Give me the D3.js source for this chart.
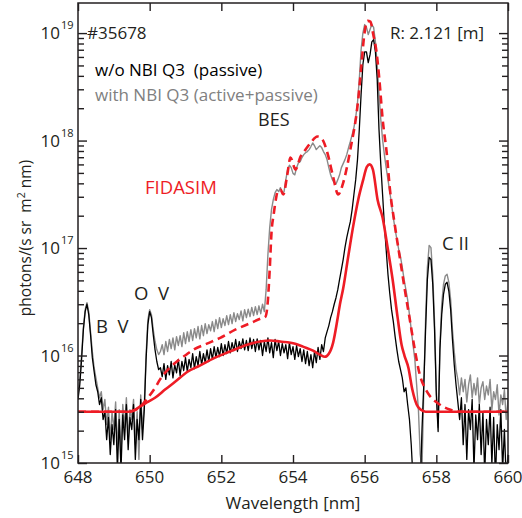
<!DOCTYPE html>
<html><head><meta charset="utf-8">
<script src="https://cdn.jsdelivr.net/npm/d3@7"></script>
<style>
body{margin:0;background:#fff}
svg{display:block}
text{font-family:"Open Sans",sans-serif;fill:#231f20}
</style>
</head><body><svg id="c" width="522" height="518"></svg>
<script>
// ---------- data ----------
const xTicks = [648, 650, 652, 654, 656, 658, 660];
const xTickLabels = ["648", "650", "652", "654", "656", "658", "660"];
const yDecades = [15, 16, 17, 18, 19];
// spectrometer wavelength grid (nm)
const gridWavelength = d3.range(241).map(i => +(648 + i * 0.05).toFixed(2));
// w/o NBI Q3 (passive) — photons/(s sr m2 nm)
const passive = [
3.9e15,5.35e15,9.2e15,1.74e16,2.56e16,3.0e16,2.4e16,1.56e16,9.55e15,7.1e15,5.35e15,
4.6e15,3.5e15,4.05e15,2.54e15,3.0e15,1.65e15,2.65e15,1.2e15,2.28e15,1.48e15,
3.14e15,8.7e14,2.54e15,8.7e14,2.8e15,1.65e15,3.5e15,1.33e15,2.65e15,2.05e15,
3.5e15,1.08e15,2.54e15,1.65e15,3.9e15,1.65e15,3.14e15,9.2e15,1.94e16,2.56e16,
2.25e16,1.56e16,1.13e16,8.8e15,7.4e15,7.7e15,6.35e15,8.4e15,6.0e15,8.05e15,
6.6e15,8.8e15,6.2e15,8.2e15,6.9e15,9.2e15,6.5e15,8.8e15,7.25e15,9.55e15,
7.1e15,9.2e15,7.7e15,1.04e16,7.55e15,9.75e15,8.05e15,1.09e16,8.2e15,1.04e16,
8.6e15,1.13e16,8.8e15,1.16e16,9.2e15,1.21e16,9.55e15,1.19e16,9.75e15,1.29e16,
1.0e16,1.26e16,1.04e16,1.35e16,1.06e16,1.32e16,1.11e16,1.41e16,1.09e16,1.35e16,
1.16e16,1.43e16,1.13e16,1.38e16,1.11e16,1.46e16,1.16e16,1.41e16,1.09e16,1.43e16,
1.13e16,1.38e16,1.0e16,1.35e16,1.09e16,1.46e16,1.06e16,1.32e16,9.55e15,1.41e16,
1.11e16,1.35e16,1.0e16,1.29e16,1.06e16,1.26e16,9.35e15,1.32e16,1.02e16,1.21e16,
9.2e15,1.24e16,9.75e15,1.16e16,8.8e15,1.13e16,8.4e15,1.09e16,8.05e15,1.02e16,
7.7e15,1.09e16,8.6e15,1.19e16,9.2e15,1.26e16,1.09e16,1.46e16,1.67e16,1.9e16,
2.25e16,2.56e16,3.0e16,3.45e16,4.1e16,5.1e16,6.3e16,7.8e16,1.01e17,1.25e17,
1.49e17,1.76e17,2.28e17,3.15e17,4.33e17,6.65e17,1.27e18,2.68e18,5.1e18,6.7e18,
6.7e18,5.3e18,6.3e18,8.3e18,8.7e18,6.7e18,3.7e18,1.27e18,6.0e17,3.15e17,
1.65e17,9.7e16,5.7e16,3.8e16,2.67e16,2.07e16,1.5e16,1.13e16,8.8e15,7.4e15,
6.2e15,4.6e15,5.0e15,3.5e15,2.54e15,1.48e15,7.0e14,8.7e14,5.7e14,4.6e14,
5.7e14,2.05e15,5.35e15,1.74e16,5.1e16,8.2e16,7.8e16,4.6e16,1.74e16,4.3e15,
1.96e15,1.13e16,2.4e16,3.7e16,4.6e16,4.8e16,3.95e16,2.67e16,1.41e16,8.2e15,
5.35e15,3.7e15,2.54e15,4.05e15,1.48e15,3.5e15,1.08e15,3.14e15,2.05e15,3.9e15,
8.7e14,2.8e15,1.65e15,3.5e15,1.2e15,3.0e15,7.8e14,2.54e15,1.48e15,3.3e15,
9.7e14,2.65e15,7.0e14,2.28e15,1.33e15,3.14e15,8.7e14,2.05e15,7.0e14,1.2e15
];
// with NBI Q3 (active+passive)
const activePassive = [
4.3e15,6.0e15,1.02e16,1.82e16,2.67e16,3.1e16,2.56e16,1.67e16,1.09e16,7.7e15,6.2e15,
5.0e15,4.05e15,4.6e15,3.14e15,3.9e15,2.28e15,3.3e15,1.65e15,3.0e15,2.05e15,
3.7e15,1.33e15,3.14e15,1.2e15,3.5e15,2.15e15,4.05e15,1.65e15,3.14e15,2.54e15,
3.9e15,1.48e15,3.0e15,1.08e15,4.3e15,2.05e15,3.5e15,1.02e16,2.16e16,2.67e16,
2.4e16,1.74e16,1.35e16,1.13e16,1.02e16,1.09e16,1.26e16,1.02e16,1.35e16,1.09e16,
1.41e16,1.16e16,1.46e16,1.13e16,1.5e16,1.24e16,1.53e16,1.21e16,1.63e16,1.29e16,
1.67e16,1.35e16,1.74e16,1.38e16,1.78e16,1.46e16,1.86e16,1.43e16,1.9e16,1.53e16,
1.98e16,1.6e16,1.94e16,1.7e16,2.07e16,1.67e16,2.16e16,1.78e16,2.25e16,1.82e16,
2.2e16,1.9e16,2.35e16,1.94e16,2.4e16,1.98e16,2.5e16,2.07e16,2.45e16,2.16e16,
2.6e16,2.1e16,2.67e16,2.25e16,2.7e16,2.3e16,2.8e16,2.35e16,2.85e16,2.4e16,
2.9e16,2.45e16,3.0e16,2.56e16,4.1e16,8.7e16,1.55e17,2.28e17,2.82e17,3.28e17,
3.5e17,3.35e17,3.65e17,3.2e17,3.35e17,4.33e17,5.37e17,5.9e17,5.6e17,4.95e17,
4.8e17,5.6e17,6.2e17,6.35e17,6.95e17,7.4e17,7.7e17,7.9e17,8.24e17,8.8e17,
9.5e17,8.95e17,8.24e17,8.6e17,8.95e17,8.6e17,7.9e17,7.4e17,6.65e17,5.6e17,
4.8e17,4.33e17,4.05e17,3.95e17,4.33e17,4.8e17,5.6e17,6.1e17,6.65e17,7.4e17,
8.6e17,9.8e17,1.13e18,1.32e18,1.64e18,2.26e18,3.7e18,7.0e18,1.0e19,1.2e19,
1.13e19,9.7e18,1.08e19,1.2e19,1.13e19,8.3e18,5.1e18,2.7e18,1.57e18,1.02e18,
7.4e17,5.6e17,4.33e17,3.35e17,2.55e17,1.92e17,1.49e17,1.2e17,9.7e16,8.3e16,
6.6e16,5.1e16,4.1e16,3.3e16,2.4e16,1.74e16,1.26e16,9.2e15,5.35e15,3.14e15,
1.2e15,8.7e14,4.8e15,2.16e16,6.6e16,1.06e17,1.01e17,5.65e16,2.07e16,4.8e15,
2.15e15,1.26e16,3.0e16,4.6e16,5.5e16,5.7e16,4.8e16,3.3e16,1.74e16,1.09e16,
7.4e15,6.0e15,4.3e15,6.2e15,4.6e15,6.0e15,3.7e15,5.35e15,6.6e15,4.05e15,
5.5e15,4.3e15,6.2e15,3.5e15,5.0e15,5.7e15,3.9e15,5.2e15,4.3e15,6.0e15,
3.14e15,4.6e15,3.9e15,5.35e15,2.8e15,4.3e15,3.5e15,4.8e15,2.54e15,3.9e15
];
// FIDASIM passive (solid red)
const fidaPassiveWl = [648.0,649.4,649.6,649.76,649.95,650.15,650.43,650.71,651.07,651.4,651.77,652.24,652.72,653.08,653.36,653.64,654.06,654.28,654.56,654.75,654.89,655.0,655.12,655.23,655.31,655.4,655.54,655.68,655.82,655.96,656.06,656.14,656.23,656.36,656.5,656.64,656.78,656.92,657.03,657.11,657.22,657.33,657.45,657.56,657.7,660.0];
const fidaPassive = [3.0e15,3.0e15,3.14e15,3.4e15,3.7e15,4.05e15,4.82e15,5.7e15,7.1e15,8.05e15,9.35e15,1.09e16,1.26e16,1.35e16,1.38e16,1.35e16,1.29e16,1.21e16,1.11e16,1.02e16,9.75e15,1.04e16,1.32e16,2.07e16,3.0e16,4.2e16,8.3e16,1.6e17,2.82e17,4.33e17,5.7e17,6.0e17,5.37e17,2.82e17,1.92e17,1.01e17,5.1e16,2.25e16,1.26e16,1.0e16,7.7e15,4.82e15,3.5e15,3.14e15,3.0e15,3.0e15];
// FIDASIM active+passive (dashed red)
const fidaTotalWl = [648.0,649.4,649.67,649.95,650.15,650.29,650.51,650.76,650.99,651.21,651.6,651.97,652.39,652.81,653.09,653.23,653.29,653.35,653.4,653.46,653.52,653.57,653.65,653.73,653.84,653.93,654.07,654.21,654.35,654.49,654.68,654.82,654.96,655.12,655.26,655.4,655.6,655.82,655.91,655.99,656.08,656.16,656.24,656.33,656.41,656.5,656.62,656.7,656.84,656.98,657.12,657.26,657.4,657.54,657.68,657.82,658.04,658.37,658.65,660.0];
const fidaTotal = [3.0e15,3.0e15,3.2e15,4.05e15,5.0e15,6.0e15,7.4e15,8.8e15,1.0e16,1.13e16,1.29e16,1.46e16,1.74e16,2.0e16,2.2e16,2.3e16,3.0e16,6.3e16,1.4e17,2.05e17,2.82e17,3.35e17,3.5e17,3.15e17,4.8e17,6.95e17,5.37e17,7.1e17,8.24e17,9.5e17,1.09e18,1.02e18,7.7e17,4.6e17,3.15e17,4.05e17,8.24e17,2.41e18,5.1e18,9.7e18,1.3e19,1.28e19,9.7e18,6.7e18,3.7e18,1.6e18,7.4e17,3.65e17,1.65e17,8.2e16,4.1e16,2.16e16,1.13e16,6.6e15,5.0e15,4.2e15,3.6e15,3.14e15,3.0e15,3.0e15];

// ---------- chart ----------
const svg = d3.select("#c");
const x = d3.scaleLinear().domain([648, 660]).range([78, 508]);
const y = d3.scaleLog().domain([1e15, Math.pow(10, 19.28)]).range([463, 3]);
const X0 = 78, X1 = 508, Y0 = 3, Y1 = 463;

svg.append("defs").append("clipPath").attr("id", "plot")
  .append("rect").attr("x", X0).attr("y", Y0).attr("width", X1 - X0).attr("height", Y1 - Y0);

const line = d3.line().x(d => x(d[0])).y(d => y(d[1]));
const plot = svg.append("g").attr("clip-path", "url(#plot)");

plot.append("path").datum(d3.zip(gridWavelength, activePassive)).attr("d", line)
  .attr("fill", "none").attr("stroke", "#8a8a8a").attr("stroke-width", 1.4).attr("stroke-linejoin", "round");
plot.append("path").datum(d3.zip(gridWavelength, passive)).attr("d", line)
  .attr("fill", "none").attr("stroke", "#000").attr("stroke-width", 1.3).attr("stroke-linejoin", "round");
const smooth = d3.line().x(d => x(d[0])).y(d => y(d[1])).curve(d3.curveMonotoneX);
plot.append("path").datum(d3.zip(fidaTotalWl, fidaTotal)).attr("d", smooth)
  .attr("fill", "none").attr("stroke", "#ee1c25").attr("stroke-width", 2.6).attr("stroke-dasharray", "8,5");
plot.append("path").datum(d3.zip(fidaPassiveWl, fidaPassive)).attr("d", smooth)
  .attr("fill", "none").attr("stroke", "#ee1c25").attr("stroke-width", 2.6);

// axes (ticks inward)
const majorY = yDecades.map(e => Math.pow(10, e));
const minorY = [];
yDecades.forEach(e => { for (let m = 2; m <= 9; m++) { const v = m * Math.pow(10, e); if (v <= y.domain()[1]) minorY.push(v); } });
function styleAxis(g) { g.select(".domain").remove(); g.selectAll("line").attr("stroke", "#231f20").attr("stroke-width", 1.4); g.selectAll("text").remove(); }
svg.append("g").attr("transform", `translate(${X0},0)`).call(d3.axisLeft(y).tickValues(majorY).tickSize(-9).tickFormat("")).call(styleAxis);
svg.append("g").attr("transform", `translate(${X0},0)`).call(d3.axisLeft(y).tickValues(minorY).tickSize(-6).tickFormat("")).call(styleAxis);
svg.append("g").attr("transform", `translate(${X1},0)`).call(d3.axisRight(y).tickValues(majorY).tickSize(-9).tickFormat("")).call(styleAxis);
svg.append("g").attr("transform", `translate(${X1},0)`).call(d3.axisRight(y).tickValues(minorY).tickSize(-6).tickFormat("")).call(styleAxis);
svg.append("g").attr("transform", `translate(0,${Y1})`).call(d3.axisBottom(x).tickValues(xTicks).tickSize(-8).tickFormat("")).call(styleAxis);
svg.append("g").attr("transform", `translate(0,${Y0})`).call(d3.axisTop(x).tickValues(xTicks).tickSize(-8).tickFormat("")).call(styleAxis);
svg.append("rect").attr("x", X0).attr("y", Y0).attr("width", X1 - X0).attr("height", Y1 - Y0)
  .attr("fill", "none").attr("stroke", "#231f20").attr("stroke-width", 1.5);

// tick labels
const fs = 17;
svg.append("g").selectAll("text").data(xTicks).join("text")
  .attr("x", d => x(d)).attr("y", 483).attr("text-anchor", "middle").attr("font-size", fs)
  .text((d, i) => xTickLabels[i]);
const yl = svg.append("g").selectAll("g").data(yDecades).join("g");
yl.append("text").attr("x", 60).attr("y", d => y(Math.pow(10, d)) + 6).attr("text-anchor", "end").attr("font-size", fs).text("10");
yl.append("text").attr("x", 61).attr("y", d => y(Math.pow(10, d)) - 4).attr("font-size", 11).text(d => d);

// axis titles
svg.append("text").attr("x", 293).attr("y", 509).attr("text-anchor", "middle").attr("font-size", fs).text("Wavelength [nm]");
const yt = svg.append("text").attr("transform", "translate(31,238) rotate(-90)").attr("text-anchor", "middle")
  .attr("font-size", 15.5).attr("xml:space", "preserve").style("white-space", "pre");
yt.append("tspan").text("photons/(s sr  m");
yt.append("tspan").attr("font-size", 10.5).attr("dy", -6).text("2");
yt.append("tspan").attr("dy", 6).text(" nm)");

// annotations
const ann = [
  {t: "#35678", x: 87, y: 39, c: "#231f20", s: 17},
  {t: "w/o NBI Q3  (passive)", x: 95, y: 76, c: "#000", s: 17},
  {t: "with NBI Q3 (active+passive)", x: 95, y: 101, c: "#808080", s: 17},
  {t: "BES", x: 258, y: 126, c: "#231f20", s: 18},
  {t: "R: 2.121 [m]", x: 390, y: 39, c: "#231f20", s: 17},
  {t: "FIDASIM", x: 145, y: 194, c: "#ee1c25", s: 18.5},
  {t: "O  V", x: 134, y: 300, c: "#231f20", s: 18.5},
  {t: "B  V", x: 96, y: 333, c: "#231f20", s: 18.5},
  {t: "C II", x: 442, y: 250, c: "#231f20", s: 18.5}
];
svg.append("g").selectAll("text").data(ann).join("text")
  .attr("x", d => d.x).attr("y", d => d.y).attr("font-size", d => d.s)
  .style("white-space", "pre").style("fill", d => d.c).text(d => d.t);
</script></body></html>
